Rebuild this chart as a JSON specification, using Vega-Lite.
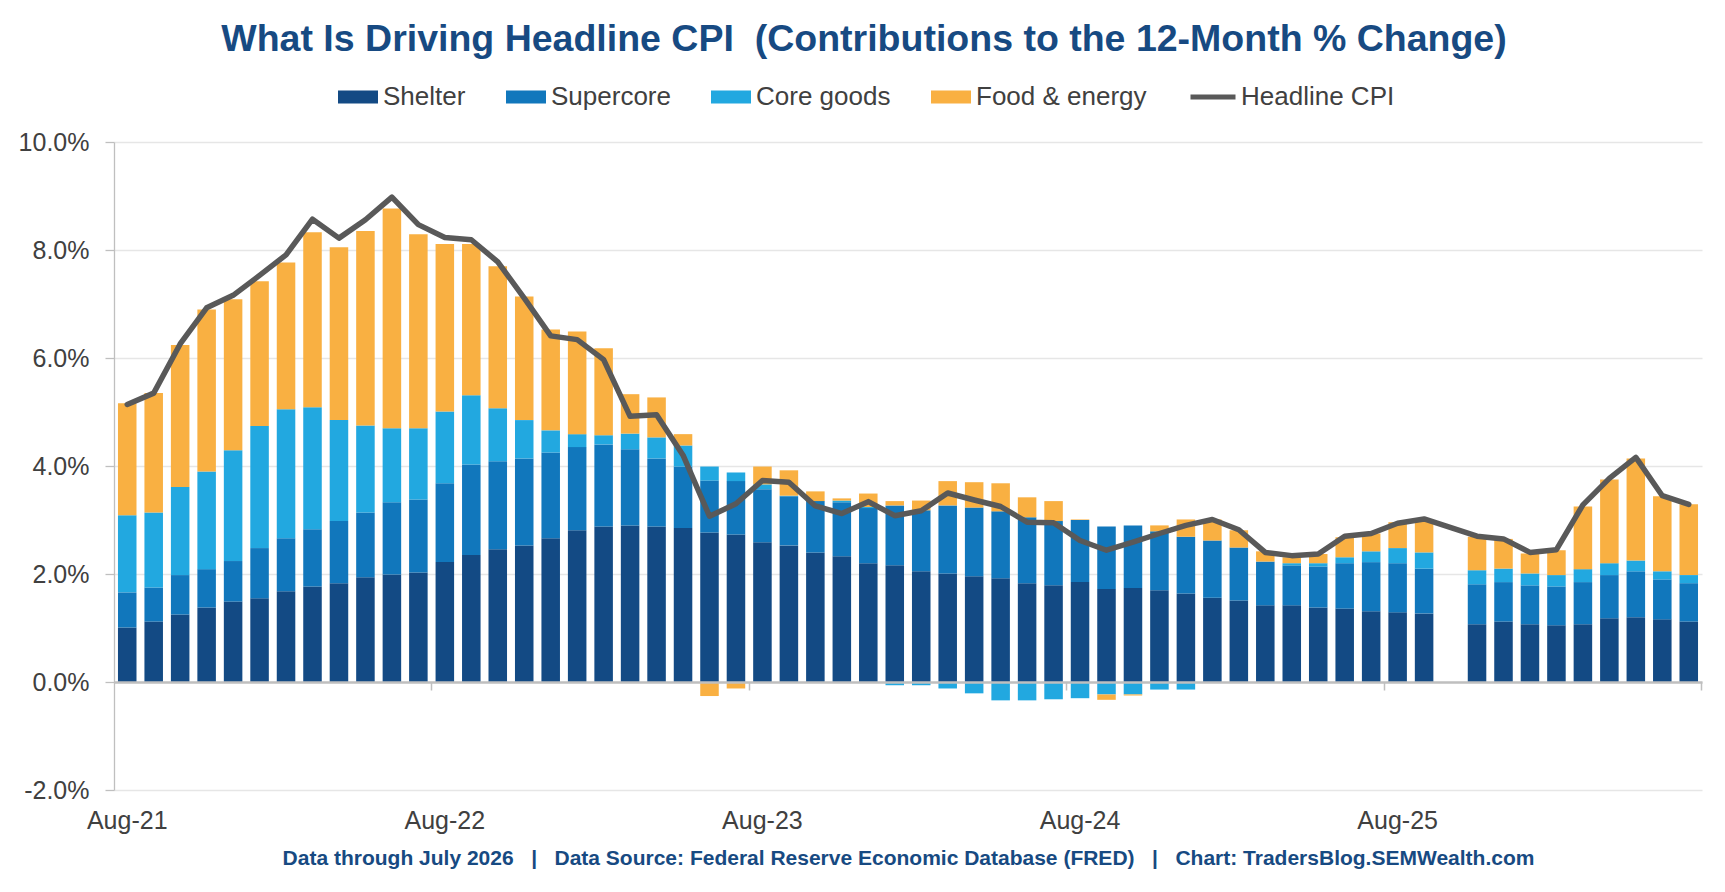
{
  "$schema": "https://vega.github.io/schema/vega-lite/v6.json",
  "width": 1588,
  "height": 648,
  "autosize": {"type": "none"},
  "padding": {"left": 114, "top": 142, "right": 23, "bottom": 102},
  "background": "white",
  "title": {
    "text": "What Is Driving Headline CPI\u00a0 (Contributions to the 12-Month % Change)",
    "font": "Liberation Sans",
    "fontSize": 37.5,
    "fontWeight": "bold",
    "color": "#174A82",
    "anchor": "middle",
    "frame": "group",
    "dx": -44,
    "offset": 14
  },
  "datasets": {
    "stackOrder": [
      {"series": "Shelter", "k": 1},
      {"series": "Supercore", "k": 2},
      {"series": "Core goods", "k": 3},
      {"series": "Food & energy", "k": 4}
    ]
  },
  "data": {
    "values": [
      {"m": "Aug-21", "Shelter": 1.01, "Supercore": 0.65, "Core goods": 1.43, "Food & energy": 2.07, "Headline CPI": 5.14},
      {"m": "Sep-21", "Shelter": 1.12, "Supercore": 0.63, "Core goods": 1.39, "Food & energy": 2.21, "Headline CPI": 5.35},
      {"m": "Oct-21", "Shelter": 1.25, "Supercore": 0.73, "Core goods": 1.63, "Food & energy": 2.63, "Headline CPI": 6.26},
      {"m": "Nov-21", "Shelter": 1.38, "Supercore": 0.71, "Core goods": 1.81, "Food & energy": 3.00, "Headline CPI": 6.93},
      {"m": "Dec-21", "Shelter": 1.49, "Supercore": 0.75, "Core goods": 2.05, "Food & energy": 2.80, "Headline CPI": 7.16},
      {"m": "Jan-22", "Shelter": 1.55, "Supercore": 0.93, "Core goods": 2.26, "Food & energy": 2.68, "Headline CPI": 7.53},
      {"m": "Feb-22", "Shelter": 1.68, "Supercore": 0.98, "Core goods": 2.39, "Food & energy": 2.72, "Headline CPI": 7.91},
      {"m": "Mar-22", "Shelter": 1.77, "Supercore": 1.06, "Core goods": 2.26, "Food & energy": 3.24, "Headline CPI": 8.57},
      {"m": "Apr-22", "Shelter": 1.83, "Supercore": 1.15, "Core goods": 1.87, "Food & energy": 3.20, "Headline CPI": 8.22},
      {"m": "May-22", "Shelter": 1.94, "Supercore": 1.20, "Core goods": 1.61, "Food & energy": 3.60, "Headline CPI": 8.56},
      {"m": "Jun-22", "Shelter": 1.99, "Supercore": 1.34, "Core goods": 1.37, "Food & energy": 4.07, "Headline CPI": 8.98},
      {"m": "Jul-22", "Shelter": 2.03, "Supercore": 1.35, "Core goods": 1.32, "Food & energy": 3.59, "Headline CPI": 8.47},
      {"m": "Aug-22", "Shelter": 2.22, "Supercore": 1.46, "Core goods": 1.33, "Food & energy": 3.10, "Headline CPI": 8.23},
      {"m": "Sep-22", "Shelter": 2.35, "Supercore": 1.68, "Core goods": 1.28, "Food & energy": 2.80, "Headline CPI": 8.19},
      {"m": "Oct-22", "Shelter": 2.46, "Supercore": 1.63, "Core goods": 0.98, "Food & energy": 2.63, "Headline CPI": 7.78},
      {"m": "Nov-22", "Shelter": 2.53, "Supercore": 1.61, "Core goods": 0.71, "Food & energy": 2.29, "Headline CPI": 7.11},
      {"m": "Dec-22", "Shelter": 2.66, "Supercore": 1.59, "Core goods": 0.41, "Food & energy": 1.87, "Headline CPI": 6.41},
      {"m": "Jan-23", "Shelter": 2.81, "Supercore": 1.54, "Core goods": 0.24, "Food & energy": 1.90, "Headline CPI": 6.34},
      {"m": "Feb-23", "Shelter": 2.88, "Supercore": 1.52, "Core goods": 0.17, "Food & energy": 1.61, "Headline CPI": 5.97},
      {"m": "Mar-23", "Shelter": 2.90, "Supercore": 1.41, "Core goods": 0.29, "Food & energy": 0.73, "Headline CPI": 4.92},
      {"m": "Apr-23", "Shelter": 2.88, "Supercore": 1.26, "Core goods": 0.39, "Food & energy": 0.74, "Headline CPI": 4.95},
      {"m": "May-23", "Shelter": 2.85, "Supercore": 1.14, "Core goods": 0.39, "Food & energy": 0.21, "Headline CPI": 4.20},
      {"m": "Jun-23", "Shelter": 2.77, "Supercore": 0.96, "Core goods": 0.26, "Food & energy": -0.26, "Headline CPI": 3.07},
      {"m": "Jul-23", "Shelter": 2.73, "Supercore": 0.99, "Core goods": 0.16, "Food & energy": -0.12, "Headline CPI": 3.30},
      {"m": "Aug-23", "Shelter": 2.59, "Supercore": 0.98, "Core goods": 0.09, "Food & energy": 0.33, "Headline CPI": 3.73},
      {"m": "Sep-23", "Shelter": 2.53, "Supercore": 0.91, "Core goods": 0.01, "Food & energy": 0.47, "Headline CPI": 3.70},
      {"m": "Oct-23", "Shelter": 2.40, "Supercore": 0.95, "Core goods": 0.00, "Food & energy": 0.18, "Headline CPI": 3.26},
      {"m": "Nov-23", "Shelter": 2.33, "Supercore": 1.00, "Core goods": 0.03, "Food & energy": 0.04, "Headline CPI": 3.12},
      {"m": "Dec-23", "Shelter": 2.20, "Supercore": 1.02, "Core goods": 0.02, "Food & energy": 0.25, "Headline CPI": 3.34},
      {"m": "Jan-24", "Shelter": 2.16, "Supercore": 1.11, "Core goods": -0.06, "Food & energy": 0.08, "Headline CPI": 3.08},
      {"m": "Feb-24", "Shelter": 2.05, "Supercore": 1.13, "Core goods": -0.06, "Food & energy": 0.18, "Headline CPI": 3.17},
      {"m": "Mar-24", "Shelter": 2.01, "Supercore": 1.26, "Core goods": -0.12, "Food & energy": 0.45, "Headline CPI": 3.50},
      {"m": "Apr-24", "Shelter": 1.96, "Supercore": 1.27, "Core goods": -0.21, "Food & energy": 0.47, "Headline CPI": 3.37},
      {"m": "May-24", "Shelter": 1.92, "Supercore": 1.24, "Core goods": -0.34, "Food & energy": 0.52, "Headline CPI": 3.25},
      {"m": "Jun-24", "Shelter": 1.83, "Supercore": 1.22, "Core goods": -0.34, "Food & energy": 0.37, "Headline CPI": 2.96},
      {"m": "Jul-24", "Shelter": 1.79, "Supercore": 1.19, "Core goods": -0.32, "Food & energy": 0.37, "Headline CPI": 2.95},
      {"m": "Aug-24", "Shelter": 1.85, "Supercore": 1.15, "Core goods": -0.30, "Food & energy": 0.01, "Headline CPI": 2.62},
      {"m": "Sep-24", "Shelter": 1.72, "Supercore": 1.16, "Core goods": -0.23, "Food & energy": -0.10, "Headline CPI": 2.44},
      {"m": "Oct-24", "Shelter": 1.74, "Supercore": 1.16, "Core goods": -0.23, "Food & energy": -0.02, "Headline CPI": 2.59},
      {"m": "Nov-24", "Shelter": 1.70, "Supercore": 1.09, "Core goods": -0.14, "Food & energy": 0.11, "Headline CPI": 2.75},
      {"m": "Dec-24", "Shelter": 1.64, "Supercore": 1.05, "Core goods": -0.14, "Food & energy": 0.32, "Headline CPI": 2.90},
      {"m": "Jan-25", "Shelter": 1.56, "Supercore": 1.06, "Core goods": 0.00, "Food & energy": 0.39, "Headline CPI": 3.01},
      {"m": "Feb-25", "Shelter": 1.51, "Supercore": 0.98, "Core goods": 0.00, "Food & energy": 0.32, "Headline CPI": 2.82},
      {"m": "Mar-25", "Shelter": 1.42, "Supercore": 0.81, "Core goods": 0.00, "Food & energy": 0.19, "Headline CPI": 2.40},
      {"m": "Apr-25", "Shelter": 1.42, "Supercore": 0.74, "Core goods": 0.04, "Food & energy": 0.11, "Headline CPI": 2.34},
      {"m": "May-25", "Shelter": 1.38, "Supercore": 0.76, "Core goods": 0.06, "Food & energy": 0.17, "Headline CPI": 2.37},
      {"m": "Jun-25", "Shelter": 1.36, "Supercore": 0.84, "Core goods": 0.11, "Food & energy": 0.37, "Headline CPI": 2.70},
      {"m": "Jul-25", "Shelter": 1.31, "Supercore": 0.91, "Core goods": 0.20, "Food & energy": 0.33, "Headline CPI": 2.75},
      {"m": "Aug-25", "Shelter": 1.29, "Supercore": 0.91, "Core goods": 0.28, "Food & energy": 0.48, "Headline CPI": 2.94},
      {"m": "Sep-25", "Shelter": 1.27, "Supercore": 0.83, "Core goods": 0.30, "Food & energy": 0.61, "Headline CPI": 3.02},
      {"m": "Nov-25", "Shelter": 1.07, "Supercore": 0.74, "Core goods": 0.26, "Food & energy": 0.62, "Headline CPI": 2.70},
      {"m": "Dec-25", "Shelter": 1.12, "Supercore": 0.73, "Core goods": 0.25, "Food & energy": 0.55, "Headline CPI": 2.65},
      {"m": "Jan-26", "Shelter": 1.07, "Supercore": 0.72, "Core goods": 0.22, "Food & energy": 0.37, "Headline CPI": 2.40},
      {"m": "Feb-26", "Shelter": 1.05, "Supercore": 0.72, "Core goods": 0.21, "Food & energy": 0.46, "Headline CPI": 2.45},
      {"m": "Mar-26", "Shelter": 1.07, "Supercore": 0.78, "Core goods": 0.24, "Food & energy": 1.16, "Headline CPI": 3.28},
      {"m": "Apr-26", "Shelter": 1.18, "Supercore": 0.80, "Core goods": 0.22, "Food & energy": 1.55, "Headline CPI": 3.77},
      {"m": "May-26", "Shelter": 1.20, "Supercore": 0.85, "Core goods": 0.20, "Food & energy": 1.89, "Headline CPI": 4.16},
      {"m": "Jun-26", "Shelter": 1.16, "Supercore": 0.74, "Core goods": 0.15, "Food & energy": 1.39, "Headline CPI": 3.45},
      {"m": "Jul-26", "Shelter": 1.12, "Supercore": 0.71, "Core goods": 0.15, "Food & energy": 1.31, "Headline CPI": 3.29}
    ]
  },
  "layer": [
    {
      "transform": [
        {"fold": ["Shelter", "Supercore", "Core goods", "Food & energy"], "as": ["series", "value"]},
        {"lookup": "series", "from": {"data": {"name": "stackOrder"}, "key": "series", "fields": ["k"]}}
      ],
      "mark": {"type": "bar"},
      "encoding": {
        "x": {
          "field": "m",
          "type": "ordinal",
          "scale": {
            "domain": ["Aug-21", "Sep-21", "Oct-21", "Nov-21", "Dec-21", "Jan-22", "Feb-22", "Mar-22", "Apr-22", "May-22", "Jun-22", "Jul-22",
                       "Aug-22", "Sep-22", "Oct-22", "Nov-22", "Dec-22", "Jan-23", "Feb-23", "Mar-23", "Apr-23", "May-23", "Jun-23", "Jul-23",
                       "Aug-23", "Sep-23", "Oct-23", "Nov-23", "Dec-23", "Jan-24", "Feb-24", "Mar-24", "Apr-24", "May-24", "Jun-24", "Jul-24",
                       "Aug-24", "Sep-24", "Oct-24", "Nov-24", "Dec-24", "Jan-25", "Feb-25", "Mar-25", "Apr-25", "May-25", "Jun-25", "Jul-25",
                       "Aug-25", "Sep-25", "Oct-25", "Nov-25", "Dec-25", "Jan-26", "Feb-26", "Mar-26", "Apr-26", "May-26", "Jun-26", "Jul-26"],
            "paddingInner": 0.3,
            "paddingOuter": 0.15
          },
          "axis": {
            "orient": "bottom",
            "values": ["Aug-21", "Aug-22", "Aug-23", "Aug-24", "Aug-25"],
            "domain": false,
            "ticks": false,
            "tickSize": 0,
            "grid": false,
            "labelAngle": 0,
            "labelFontSize": 25,
            "labelColor": "#404040",
            "labelPadding": 18,
            "title": "Data through July 2026\u00a0\u00a0 | \u00a0\u00a0Data Source: Federal Reserve Economic Database (FRED)\u00a0\u00a0 | \u00a0\u00a0Chart: TradersBlog.SEMWealth.com",
            "titleFontSize": 21,
            "titleFontWeight": "bold",
            "titleColor": "#174A82",
            "titlePadding": 14
          }
        },
        "y": {
          "field": "value",
          "type": "quantitative",
          "stack": "zero",
          "scale": {"domain": [-2, 10], "nice": false},
          "axis": {
            "title": null,
            "values": [-2, 0, 2, 4, 6, 8, 10],
            "labelExpr": "(datum.value < 0 ? '-' : '') + format(abs(datum.value), '.1f') + '%'",
            "labelFontSize": 25,
            "labelColor": "#404040",
            "labelPadding": 16,
            "tickSize": 9,
            "tickColor": "#BFBFBF",
            "tickWidth": 1.3,
            "domainColor": "#BFBFBF",
            "domainWidth": 1.3,
            "gridColor": "#E6E6E6",
            "gridWidth": 1.5
          }
        },
        "order": {"field": "k", "type": "quantitative", "sort": "ascending"},
        "color": {
          "field": "series",
          "type": "nominal",
          "scale": {
            "domain": ["Shelter", "Supercore", "Core goods", "Food & energy"],
            "range": ["#134A84", "#1177BC", "#22A8E0", "#F9B042"]
          },
          "legend": {
            "title": null,
            "orient": "none",
            "legendX": 224,
            "legendY": -65,
            "direction": "horizontal",
            "symbolType": "M-1,-0.32H1V0.32H-1Z",
            "symbolSize": 1600,
            "symbolStrokeWidth": 0,
            "labelFontSize": 26,
            "labelColor": "#404040",
            "labelOffset": 5,
            "labelLimit": 400,
            "columnPadding": 40,
            "padding": 0
          }
        }
      }
    },
    {
      "mark": {"type": "line", "strokeWidth": 5.5, "strokeJoin": "round", "strokeCap": "round"},
      "encoding": {
        "x": {
          "field": "m",
          "type": "ordinal",
          "axis": {
            "orient": "bottom",
            "offset": -108,
            "values": ["Jul-22", "Jul-23", "Jul-24", "Jul-25", "Jul-26"],
            "bandPosition": 1.214,
            "labels": false,
            "title": null,
            "grid": false,
            "domain": true,
            "domainColor": "#BFBFBF",
            "domainWidth": 2.5,
            "ticks": true,
            "tickColor": "#BFBFBF",
            "tickWidth": 1.5,
            "tickSize": 8,
            "zindex": 1
          }
        },
        "y": {
          "field": "Headline CPI",
          "type": "quantitative",
          "scale": {"domain": [-2, 10], "nice": false},
          "axis": {"title": null}
        },
        "stroke": {
          "datum": "Headline CPI",
          "type": "nominal",
          "scale": {"range": ["#595959"]},
          "legend": {
            "title": null,
            "orient": "none",
            "legendX": 1074,
            "legendY": -70,
            "symbolType": "stroke",
            "symbolSize": 2025,
            "symbolStrokeWidth": 5,
            "labelFontSize": 26,
            "labelColor": "#404040",
            "labelOffset": 3,
            "labelLimit": 400,
            "padding": 0
          }
        }
      }
    }
  ],
  "resolve": {"axis": {"x": "independent"}},
  "config": {
    "font": "Liberation Sans",
    "view": {"stroke": null}
  }
}
